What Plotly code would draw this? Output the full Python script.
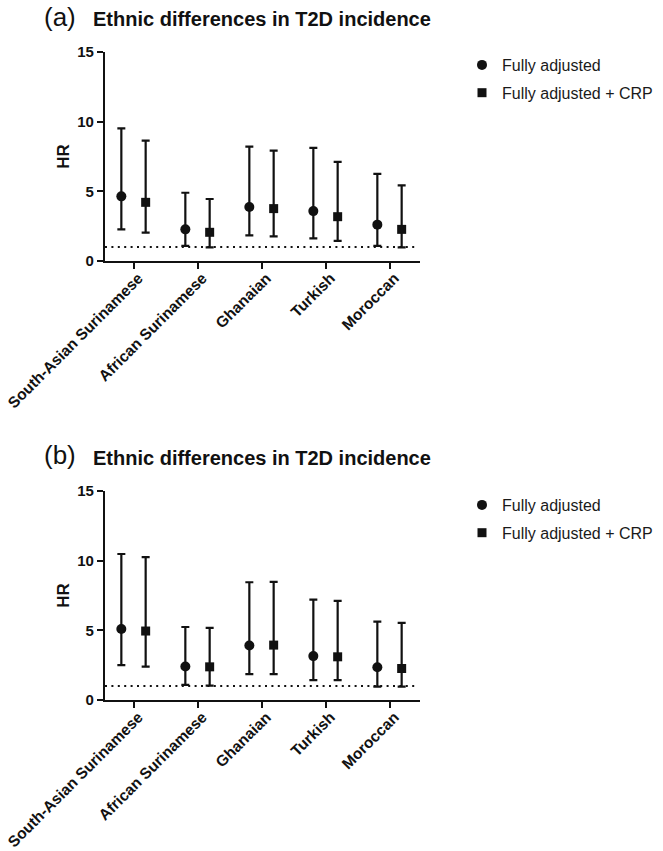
import plotly.graph_objects as go

categories = ["South-Asian Surinamese", "African Surinamese", "Ghanaian", "Turkish", "Moroccan"]
series_names = ["Fully adjusted", "Fully adjusted + CRP"]

# Panel (a)
a_full_hr = [4.64, 2.27, 3.88, 3.58, 2.61]
a_full_lo = [2.27, 1.08, 1.84, 1.62, 1.08]
a_full_hi = [9.52, 4.90, 8.21, 8.12, 6.25]
a_crp_hr = [4.21, 2.06, 3.76, 3.18, 2.27]
a_crp_lo = [2.03, 0.98, 1.77, 1.44, 0.98]
a_crp_hi = [8.64, 4.45, 7.92, 7.11, 5.43]

# Panel (b)
b_full_hr = [5.10, 2.40, 3.91, 3.15, 2.35]
b_full_lo = [2.50, 1.08, 1.86, 1.42, 0.96]
b_full_hi = [10.48, 5.24, 8.45, 7.21, 5.62]
b_crp_hr = [4.95, 2.38, 3.94, 3.10, 2.26]
b_crp_lo = [2.40, 1.03, 1.86, 1.42, 0.96]
b_crp_hi = [10.26, 5.17, 8.48, 7.12, 5.53]

y_ticks = [0, 5, 10, 15]
reference_hr = 1
panel_labels = ["(a)", "(b)"]
title_text = "Ethnic differences in T2D incidence"

W, H = 663, 851
FONT = "Liberation Sans, Arial, sans-serif"
BLACK = "#111111"

idx = list(range(len(categories)))
offset = 0.19

fig = go.Figure()


def add_series(xa, ya, hr, lo, hi, name, symbol, size, dx, legend):
    fig.add_trace(go.Scatter(
        x=[i + dx for i in idx], y=hr, mode="markers", name=name,
        xaxis=xa, yaxis=ya, legend=legend, legendgroup=legend + name,
        marker=dict(symbol=symbol, size=size, color=BLACK),
        error_y=dict(type="data", symmetric=False,
                     array=[h - p for h, p in zip(hi, hr)],
                     arrayminus=[p - l for p, l in zip(hr, lo)],
                     color=BLACK, thickness=2.2, width=4),
    ))


add_series("x", "y", a_full_hr, a_full_lo, a_full_hi, series_names[0], "circle", 10, -offset, "legend")
add_series("x", "y", a_crp_hr, a_crp_lo, a_crp_hi, series_names[1], "square", 9, offset, "legend")
add_series("x2", "y2", b_full_hr, b_full_lo, b_full_hi, series_names[0], "circle", 10, -offset, "legend2")
add_series("x2", "y2", b_crp_hr, b_crp_lo, b_crp_hi, series_names[1], "square", 9, offset, "legend2")

x_dom = [105 / W, 420 / W]
x_rng = [(105 - 133.5) / 64, (420 - 133.5) / 64]

xcommon = dict(domain=x_dom, range=x_rng, tickmode="array", tickvals=idx, ticktext=categories,
               tickangle=-45, ticks="outside", ticklen=6, tickwidth=2, tickcolor=BLACK,
               showline=True, linewidth=2.2, linecolor=BLACK, showgrid=False, zeroline=False,
               ticklabeloverflow="allow", ticklabelstandoff=-6, ticklabelshift=5,
               tickfont=dict(family=FONT, size=15.5, color=BLACK, weight="bold"), automargin=False)
ycommon = dict(range=[0, 15], tickmode="array", tickvals=y_ticks, ticks="outside", ticklen=6,
               tickwidth=2, tickcolor=BLACK, showline=True, linewidth=2.2, linecolor=BLACK,
               showgrid=False, zeroline=False, automargin=False,
               tickfont=dict(family=FONT, size=15, color=BLACK, weight="bold"),
               title=dict(text="HR", font=dict(family=FONT, size=17, color=BLACK, weight="bold"), standoff=3))

fig.update_layout(
    width=W, height=H, margin=dict(l=0, r=0, t=0, b=0),
    paper_bgcolor="white", plot_bgcolor="white",
    xaxis=dict(xcommon, anchor="y"),
    yaxis=dict(ycommon, domain=[1 - 261 / H, 1 - 52 / H], anchor="x"),
    xaxis2=dict(xcommon, anchor="y2"),
    yaxis2=dict(ycommon, domain=[1 - 700 / H, 1 - 491 / H], anchor="x2"),
    legend=dict(x=462 / W, y=1 - 48 / H, xanchor="left", yanchor="top", tracegroupgap=4,
                font=dict(family=FONT, size=16, color="#1a1a1a"), bgcolor="rgba(0,0,0,0)"),
    legend2=dict(x=462 / W, y=1 - 488 / H, xanchor="left", yanchor="top", tracegroupgap=4,
                 font=dict(family=FONT, size=16, color="#1a1a1a"), bgcolor="rgba(0,0,0,0)"),
    showlegend=True,
)

for ya in ["y", "y2"]:
    fig.add_shape(type="line", xref=("x domain" if ya == "y" else "x2 domain"), yref=ya,
                  x0=0, x1=0.984, y0=reference_hr, y1=reference_hr,
                  line=dict(color=BLACK, width=2, dash="2px,4.4px"))

for lab, yc, ytc in [(panel_labels[0], 17, 19), (panel_labels[1], 455, 458)]:
    fig.add_annotation(text=lab, xref="paper", yref="paper", x=42 / W, y=1 - yc / H,
                       xanchor="left", yanchor="middle", showarrow=False,
                       font=dict(family=FONT, size=26, color=BLACK))
    fig.add_annotation(text=title_text, xref="paper", yref="paper", x=91 / W, y=1 - ytc / H,
                       xanchor="left", yanchor="middle", showarrow=False,
                       font=dict(family=FONT, size=20, color=BLACK, weight="bold"))

fig.write_html("out.html", config={"displayModeBar": False},
               post_script="document.body.style.margin='0';")
